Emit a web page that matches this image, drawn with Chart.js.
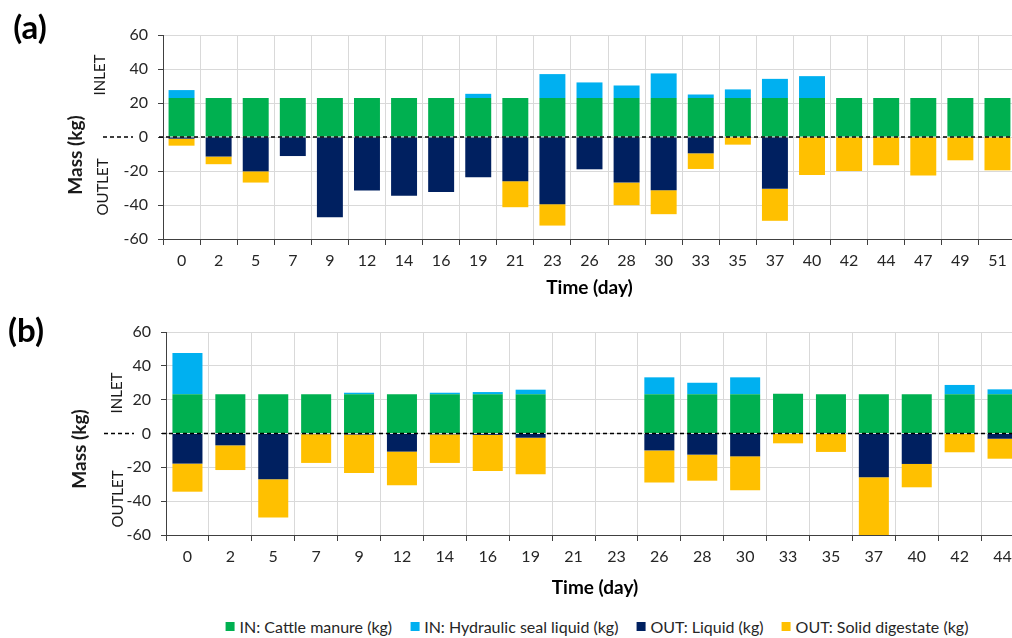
<!DOCTYPE html>
<html>
<head>
<meta charset="utf-8">
<script src="https://cdn.jsdelivr.net/npm/chart.js@4.4.1/dist/chart.umd.min.js"></script>
<style>
  html, body { margin: 0; padding: 0; background: #fff; overflow: hidden; width: 1012px; height: 638px; }
  .wrap { position: absolute; left: 0; }
  #legenda { position: absolute; left: 597px; top: 617px; transform: translateX(-50%); display: flex; white-space: nowrap;
             font-family: Lato, "Liberation Sans", sans-serif; font-size: 16px; color: #262626; }
  #legenda .item { display: flex; align-items: center; margin: 0 9px; }
  #legenda .box { width: 9px; height: 9px; margin-right: 5px; }
</style>
</head>
<body>
<div class="wrap" style="top:0; width:1016px; height:300px;"><canvas id="chart-a"></canvas></div>
<div class="wrap" style="top:300px; width:1024px; height:300px;"><canvas id="chart-b"></canvas></div>
<div id="legenda"></div>
<script>
// ---- (a) ----
const diasA = ['0','2','5','7','9','12','14','16','19','21','23','26','28','30','33','35','37','40','42','44','47','49','51'];
const esterco_A = [22.9,22.9,22.9,22.9,22.9,22.9,22.9,22.9,22.9,22.9,22.9,22.9,22.9,22.9,22.9,22.9,22.9,22.9,22.9,22.9,22.9,22.9,22.9];
const selo_A = [4.7,0,0,0,0,0,0,0,2.5,0,14.1,9.2,7.4,14.5,2.1,5.1,11.3,12.9,0,0,0,0,0];
const liquido_A = [-1,-11.5,-20.2,-11.2,-47.2,-31.5,-34.6,-32.3,-23.7,-26,-39.5,-19,-26.8,-31.3,-9.6,0,-30.5,0,0,0,0,0,0];
const solido_A = [-4.1,-4.5,-6.6,0,0,0,0,0,0,-15.3,-12.6,0,-13.3,-14.1,-9.2,-4.5,-18.8,-22.3,-20,-16.6,-22.7,-13.7,-19.6];

// ---- (b) ----
const diasB = ['0','2','5','7','9','12','14','16','19','21','23','26','28','30','33','35','37','40','42','44'];
const esterco_B = [23.2,23.2,23.2,23.2,23.2,23.2,23.2,23.2,23.2,null,null,23.2,23.2,23.2,23.5,23.2,23.2,23.2,23.2,23.2];
const selo_B = [24.4,0,0,0,0.9,0,0.9,1.3,2.7,null,null,10,6.8,10,0,0,0,0,5.5,2.9];
const liquido_B = [-17.8,-7,-27.1,-0.4,-0.6,-10.7,-0.5,-0.8,-2.5,null,null,-10,-12.5,-13.5,0,0,-25.9,-18,0,-3.1];
const solido_B = [-16.6,-14.6,-22.5,-17,-22.7,-19.9,-16.9,-21.4,-21.6,null,null,-18.9,-15.4,-20.1,-5.8,-10.9,-36,-13.8,-11.1,-11.8];

const yTicks = [-60,-40,-20,0,20,40,60];
const nomesSeries = ['IN: Cattle manure (kg)', 'IN: Hydraulic seal liquid (kg)', 'OUT: Liquid (kg)', 'OUT: Solid digestate (kg)'];
const coresSeries = ['#00B050', '#00B0F0', '#002060', '#FFC000'];

const fonte = 'Lato, "Liberation Sans", sans-serif';

// linha tracejada no zero + textos rotacionados
const extrasPlugin = {
  id: 'extras',
  afterDatasetsDraw(chart, args, opts) {
    const ctx = chart.ctx;
    const area = chart.chartArea;
    const y0 = chart.scales.y.getPixelForValue(0);
    ctx.save();
    ctx.setLineDash([4, 3]);
    ctx.strokeStyle = '#000';
    ctx.lineWidth = 1.3;
    ctx.beginPath();
    ctx.moveTo(opts.dashStart, y0);
    ctx.lineTo(opts.dashStart + 30, y0);
    ctx.moveTo(area.left - 4, y0);
    ctx.lineTo(area.right, y0);
    ctx.stroke();
    ctx.setLineDash([]);

    ctx.fillStyle = '#000';
    ctx.textAlign = 'center';
    ctx.textBaseline = 'middle';
    ctx.font = 'bold 33px ' + fonte;
    ctx.fillText(opts.letra, opts.letraX, opts.letraY);

    opts.rotulos.forEach(r => {
      ctx.save();
      ctx.translate(r.x, r.y);
      ctx.rotate(-Math.PI / 2);
      ctx.font = r.font;
      ctx.fillStyle = '#1a1a1a';
      ctx.fillText(r.texto, 0, 0);
      ctx.restore();
    });
    ctx.restore();
  }
};

function criarGrafico(id, dias, esterco, selo, liquido, solido, eixoY, alturaX, topo, extras) {
  const series = [esterco, selo, liquido, solido];
  const ctx = document.getElementById(id).getContext('2d');
  return new Chart(ctx, {
    type: 'bar',
    data: {
      labels: dias,
      datasets: series.map((s, i) => ({
        label: nomesSeries[i],
        data: s,
        backgroundColor: coresSeries[i],
        borderWidth: 0,
        barPercentage: 1,
        categoryPercentage: 0.7
      }))
    },
    options: {
      responsive: true,
      maintainAspectRatio: false,
      animation: false,
      layout: { padding: { top: topo, left: 0, right: 0, bottom: 0 } },
      plugins: {
        legend: { display: false },
        tooltip: { enabled: false },
        extras: extras
      },
      scales: {
        x: {
          stacked: true,
          grid: { color: '#d9d9d9', tickColor: '#404040', tickLength: 6, offset: true },
          border: { color: '#404040', width: 1 },
          ticks: { color: '#262626', font: { family: fonte, size: 16 }, padding: 6, maxRotation: 0, autoSkip: false },
          title: { display: true, text: 'Time (day)', color: '#000', font: { family: fonte, size: 19, weight: 'bold' }, padding: { top: 2, bottom: 1 } },
          afterFit(scale) { scale.height = alturaX; }
        },
        y: {
          stacked: true,
          min: -60,
          max: 60,
          afterBuildTicks(scale) { scale.ticks = yTicks.map(v => ({ value: v })); },
          grid: { color: '#d9d9d9', tickColor: '#404040', tickLength: 5 },
          border: { color: '#404040', width: 1 },
          ticks: { color: '#262626', font: { family: fonte, size: 16 }, padding: 10 },
          afterFit(scale) { scale.width = eixoY; }
        }
      }
    },
    plugins: [extrasPlugin]
  });
}

function criarLegenda() {
  const div = document.getElementById('legenda');
  nomesSeries.forEach((nome, i) => {
    const item = document.createElement('div');
    item.className = 'item';
    item.innerHTML = '<span class="box" style="background:' + coresSeries[i] + '"></span><span>' + nome + '</span>';
    div.appendChild(item);
  });
}

criarGrafico('chart-a', diasA, esterco_A, selo_A, liquido_A, solido_A, 163, 61, 35, {
  dashStart: 103, letra: '(a)', letraX: 30, letraY: 28,
  rotulos: [
    { texto: 'Mass (kg)', x: 76, y: 155, font: 'bold 19px ' + fonte },
    { texto: 'INLET', x: 100, y: 75, font: '15px ' + fonte },
    { texto: 'OUTLET', x: 103, y: 187, font: '15px ' + fonte }
  ]
});

criarGrafico('chart-b', diasB, esterco_B, selo_B, liquido_B, solido_B, 166, 65, 32, {
  dashStart: 104, letra: '(b)', letraX: 26, letraY: 31,
  rotulos: [
    { texto: 'Mass (kg)', x: 80, y: 149, font: 'bold 19px ' + fonte },
    { texto: 'INLET', x: 117, y: 93, font: '15px ' + fonte },
    { texto: 'OUTLET', x: 118, y: 199, font: '15px ' + fonte }
  ]
});

criarLegenda();
</script>
</body>
</html>
